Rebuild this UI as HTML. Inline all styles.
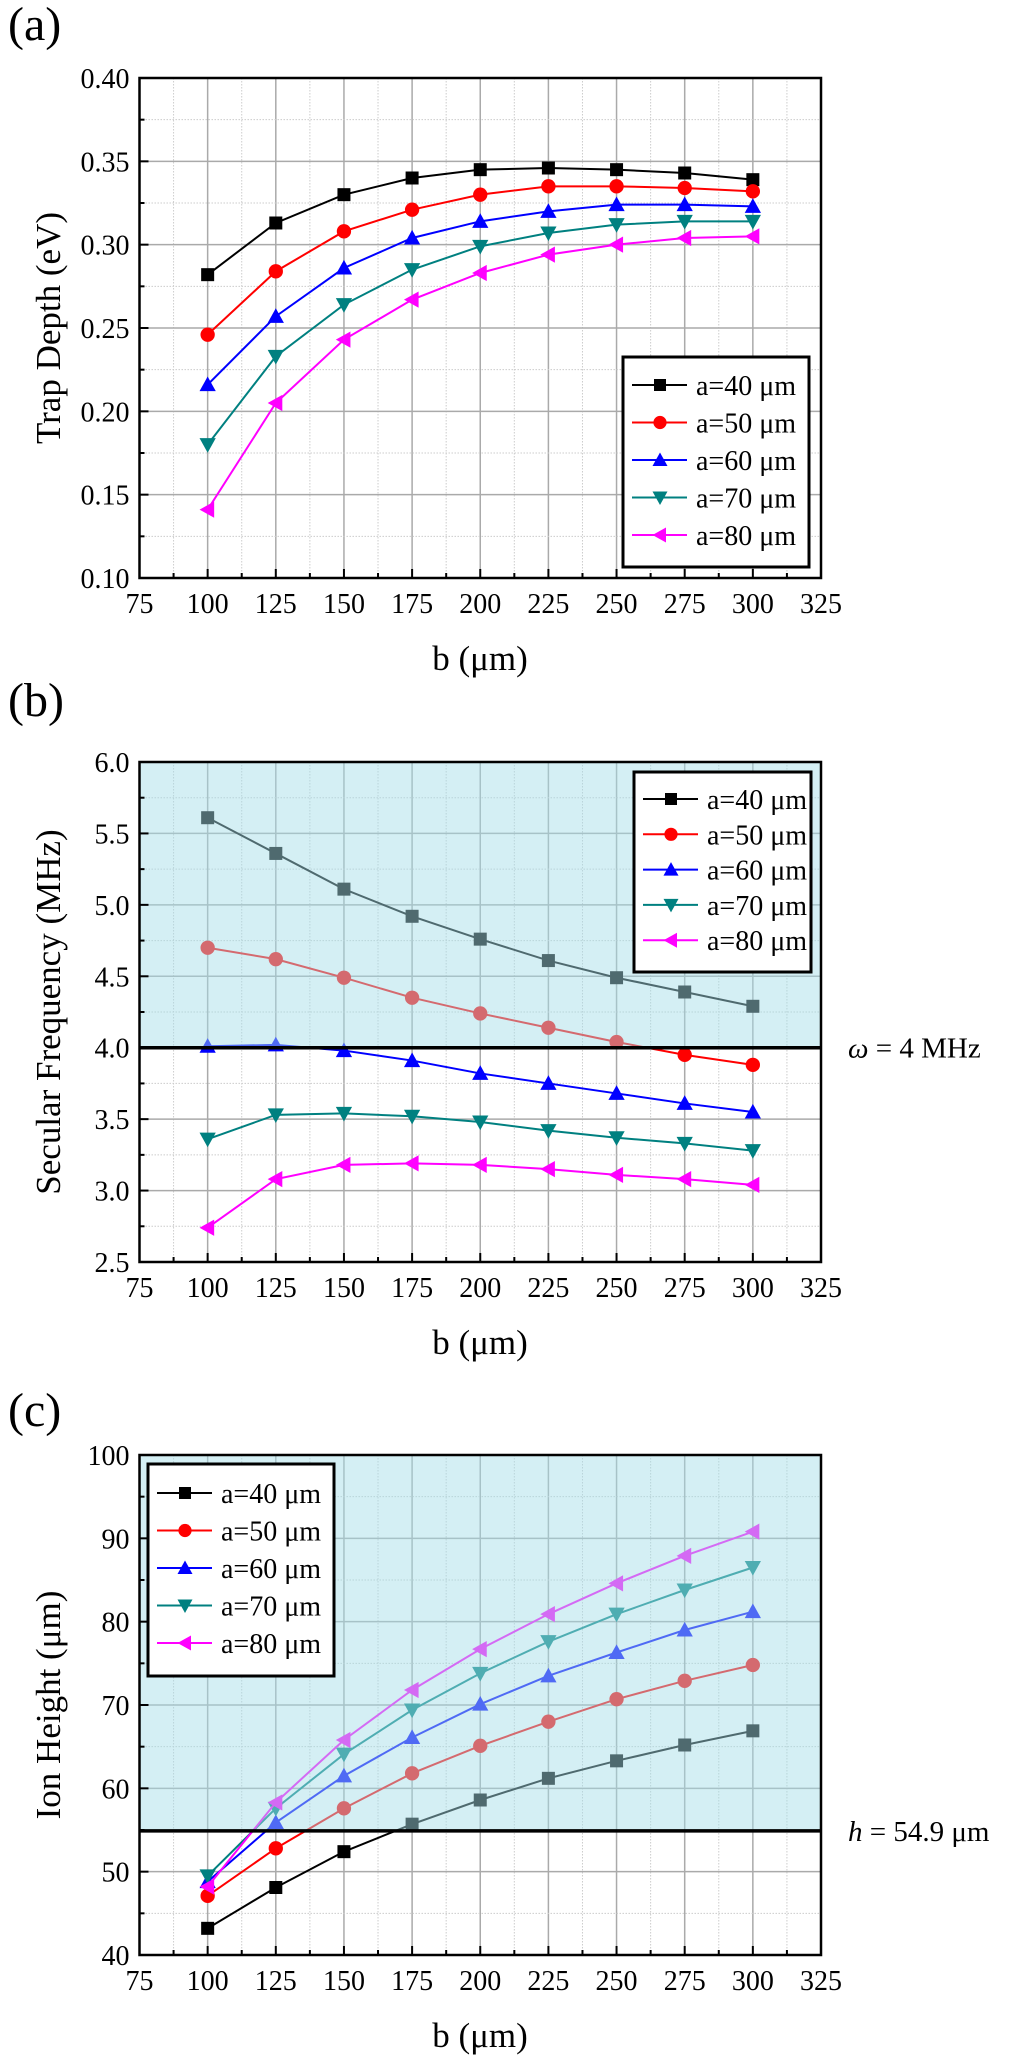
<!DOCTYPE html>
<html><head><meta charset="utf-8">
<style>
html,body{margin:0;padding:0;background:#fff;}
svg{display:block;}
svg text{font-family:"Liberation Serif","Times New Roman",serif;}
</style></head>
<body>
<svg id="fig" width="1024" height="2067" viewBox="0 0 1024 2067" xmlns="http://www.w3.org/2000/svg" font-family="Liberation Serif, serif"></svg>
<script>
const bValues = [100,125,150,175,200,225,250,275,300];
const seriesLabels = ["a=40 μm","a=50 μm","a=60 μm","a=70 μm","a=80 μm"];
const trapDepth40 = [0.282,0.313,0.330,0.340,0.345,0.346,0.345,0.343,0.339];
const trapDepth50 = [0.246,0.284,0.308,0.321,0.330,0.335,0.335,0.334,0.332];
const trapDepth60 = [0.216,0.257,0.286,0.304,0.314,0.320,0.324,0.324,0.323];
const trapDepth70 = [0.180,0.233,0.264,0.285,0.299,0.307,0.312,0.314,0.314];
const trapDepth80 = [0.141,0.205,0.243,0.267,0.283,0.294,0.300,0.304,0.305];
const secular40 = [5.61,5.36,5.11,4.92,4.76,4.61,4.49,4.39,4.29];
const secular50 = [4.70,4.62,4.49,4.35,4.24,4.14,4.04,3.95,3.88];
const secular60 = [4.01,4.02,3.98,3.91,3.82,3.75,3.68,3.61,3.55];
const secular70 = [3.36,3.53,3.54,3.52,3.48,3.42,3.37,3.33,3.28];
const secular80 = [2.74,3.08,3.18,3.19,3.18,3.15,3.11,3.08,3.04];
const height40 = [43.2,48.1,52.4,55.7,58.6,61.2,63.3,65.2,66.9];
const height50 = [47.1,52.8,57.6,61.8,65.1,68.0,70.7,72.9,74.8];
const height60 = [48.8,55.9,61.5,66.1,70.1,73.5,76.3,79.0,81.2];
const height70 = [49.5,57.6,64.1,69.4,73.8,77.6,80.9,83.8,86.5];
const height80 = [48.2,58.3,65.8,71.8,76.7,80.9,84.6,87.9,90.8];
const xTicks = [75,100,125,150,175,200,225,250,275,300,325];
const yTicksA = ["0.10","0.15","0.20","0.25","0.30","0.35","0.40"];
const yTicksB = ["2.5","3.0","3.5","4.0","4.5","5.0","5.5","6.0"];
const yTicksC = ["40","50","60","70","80","90","100"];
const omegaThreshold = 4.0;
const heightThreshold = 54.9;

const NS="http://www.w3.org/2000/svg";
const svg=document.getElementById('fig');
const FONT='"Liberation Serif", serif';
const colors=["#000000","#ff0000","#0000ff","#008080","#ff00ff"];
const shapes=["square","circle","up","down","left"];
const X0=139.5,X1=821;
function xs(v){return X0+(v-75)/250*(X1-X0);}
function mk(tag,attrs,parent){const e=document.createElementNS(NS,tag);for(const k in attrs)e.setAttribute(k,attrs[k]);if(tag==='text')e.setAttribute('font-family',FONT);(parent||svg).appendChild(e);return e;}
function marker(g,shape,cx,cy,col,s){
  let e;
  if(shape==="square") e=mk('rect',{x:cx-s,y:cy-s,width:2*s,height:2*s,fill:col},g);
  else if(shape==="circle") e=mk('circle',{cx:cx,cy:cy,r:s*1.1,fill:col},g);
  else{
    let p;const r=s*1.25;
    if(shape==="up") p=[[cx,cy-r],[cx+r,cy+r*0.8],[cx-r,cy+r*0.8]];
    if(shape==="down") p=[[cx,cy+r],[cx+r,cy-r*0.8],[cx-r,cy-r*0.8]];
    if(shape==="left") p=[[cx-r,cy],[cx+r*0.8,cy-r],[cx+r*0.8,cy+r]];
    e=mk('polygon',{points:p.map(q=>q.join(',')).join(' '),fill:col},g);
  }
  return e;
}
function panel(o){
  const g=mk('g',{});
  
  
  const ymin=parseFloat(o.yTicks[0]),ymax=parseFloat(o.yTicks[o.yTicks.length-1]);
  const ys=v=>o.yBot-(v-ymin)/(ymax-ymin)*(o.yBot-o.yTop);
  const grid=mk('g',{},g);
  
  
  for(let i=0;i<xTicks.length;i++){
    const x=xs(xTicks[i]);
    if(i>0&&i<xTicks.length-1) mk('line',{x1:x,x2:x,y1:o.yTop,y2:o.yBot,stroke:'#aaaaaa','stroke-width':1.5},grid);
    if(i<xTicks.length-1){const xm=xs(xTicks[i]+12.5);mk('line',{x1:xm,x2:xm,y1:o.yTop,y2:o.yBot,stroke:'#cccccc','stroke-width':1,'stroke-dasharray':'1.5,1.5'},grid);}
  }
  for(let i=0;i<o.yTicks.length;i++){
    const v=parseFloat(o.yTicks[i]);const y=ys(v);
    if(i>0&&i<o.yTicks.length-1) mk('line',{x1:X0,x2:X1,y1:y,y2:y,stroke:'#aaaaaa','stroke-width':1.5},grid);
    if(i<o.yTicks.length-1){const ym=(y+ys(parseFloat(o.yTicks[i+1])))/2;mk('line',{x1:X0,x2:X1,y1:ym,y2:ym,stroke:'#cccccc','stroke-width':1,'stroke-dasharray':'1.5,1.5'},grid);}
  }
  o.series.forEach((vals,si)=>{
    const sg=mk('g',{},g);
    
    
    const pts=vals.map((v,i)=>[xs(bValues[i]),ys(v)]);
    mk('polyline',{points:pts.map(p=>p.join(',')).join(' '),fill:'none',stroke:colors[si],'stroke-width':2},sg);
    pts.forEach((p,i)=>{const m=marker(sg,shapes[si],p[0],p[1],colors[si],6.5);
      
      });
  });
  if(o.threshold!==undefined){
    const ty=ys(o.threshold);
    const sh=mk('rect',{x:X0,y:o.yTop,width:X1-X0,height:ty-o.yTop,fill:'rgb(165,221,233)','fill-opacity':0.48},g);
    
    
    const tl=mk('line',{x1:X0,x2:X1,y1:ty,y2:ty,stroke:'#000','stroke-width':3.5},g);
    
    
    const tt=mk('text',{x:848,y:ty+10,'font-size':29,fill:'#000'},g);
    
    
    tt.innerHTML=o.thLabel;
  }
  const fr=mk('rect',{x:X0,y:o.yTop,width:X1-X0,height:o.yBot-o.yTop,fill:'none',stroke:'#000','stroke-width':2.5},g);
  
  
  const xa=mk('g',{},g);
  
  
  for(let i=0;i<xTicks.length;i++){
    const x=xs(xTicks[i]);
    mk('line',{x1:x,x2:x,y1:o.yBot,y2:o.yBot-9,stroke:'#000','stroke-width':2},xa);
    if(i<xTicks.length-1){const xm=xs(xTicks[i]+12.5);mk('line',{x1:xm,x2:xm,y1:o.yBot,y2:o.yBot-5,stroke:'#000','stroke-width':2},xa);}
    const t=mk('text',{x:x,y:o.yBot+35,'font-size':28,'text-anchor':'middle'},xa);
    t.textContent=xTicks[i];
  }
  const xl=mk('text',{x:480,y:o.yBot+92,'font-size':35,'text-anchor':'middle'},g);
  
  
  xl.textContent='b (μm)';
  const ya=mk('g',{},g);
  
  
  for(let i=0;i<o.yTicks.length;i++){
    const y=ys(parseFloat(o.yTicks[i]));
    mk('line',{x1:X0,x2:X0+9,y1:y,y2:y,stroke:'#000','stroke-width':2},ya);
    if(i<o.yTicks.length-1){const ym=(y+ys(parseFloat(o.yTicks[i+1])))/2;mk('line',{x1:X0,x2:X0+5,y1:ym,y2:ym,stroke:'#000','stroke-width':2},ya);}
    const t=mk('text',{x:X0-10,y:y+10,'font-size':28,'text-anchor':'end'},ya);
    t.textContent=o.yTicks[i];
  }
  const cy=(o.yTop+o.yBot)/2;
  const yl=mk('text',{x:0,y:0,'font-size':35,'text-anchor':'middle',transform:'translate(60,'+cy+') rotate(-90)'},g);
  
  
  yl.textContent=o.yTitle;
  const pl=mk('text',{x:8,y:o.labelY,'font-size':48},g);
  
  
  pl.textContent=o.label;
  const L=o.legend;
  const lg=mk('g',{},g);
  
  
  mk('rect',{x:L.x,y:L.y,width:L.w,height:L.h,fill:'#fff',stroke:'#000','stroke-width':3},lg);
  seriesLabels.forEach((s,i)=>{
    const ry=L.y+L.first+i*L.step;
    const e=mk('g',{},lg);
    
    
    mk('line',{x1:L.x+9,x2:L.x+64,y1:ry,y2:ry,stroke:colors[i],'stroke-width':2},e);
    marker(e,shapes[i],L.x+37,ry,colors[i],6);
    const t=mk('text',{x:L.x+73,y:ry+10,'font-size':28},e);
    t.textContent=s;
  });
}
panel({name:'panel-a-trap-depth',yTop:78,yBot:578,yTicks:yTicksA,series:[trapDepth40,trapDepth50,trapDepth60,trapDepth70,trapDepth80],
  yTitle:'Trap Depth (eV)',label:'(a)',labelY:40,legend:{x:623,y:357,w:186,h:210,first:28,step:37.5}});
panel({name:'panel-b-secular-frequency',yTop:762,yBot:1262,yTicks:yTicksB,series:[secular40,secular50,secular60,secular70,secular80],
  yTitle:'Secular Frequency (MHz)',label:'(b)',labelY:716,threshold:omegaThreshold,thLabel:'<tspan font-style="italic">ω</tspan> = 4 MHz',
  legend:{x:634,y:772,w:177,h:200,first:27,step:35.3}});
panel({name:'panel-c-ion-height',yTop:1455,yBot:1955,yTicks:yTicksC,series:[height40,height50,height60,height70,height80],
  yTitle:'Ion Height (μm)',label:'(c)',labelY:1426,threshold:heightThreshold,thLabel:'<tspan font-style="italic">h</tspan> = 54.9 μm',
  legend:{x:148,y:1464,w:186,h:212,first:29,step:37.5}});
</script>
</body></html>
